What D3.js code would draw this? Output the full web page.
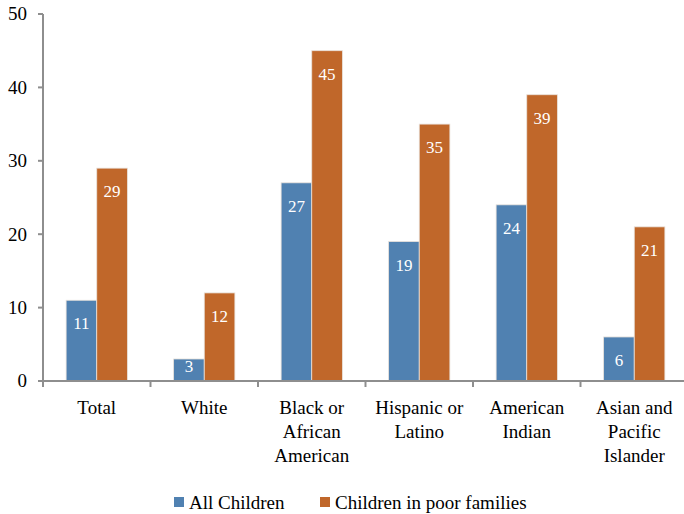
<!DOCTYPE html>
<html><head><meta charset="utf-8">
<script src="https://cdn.jsdelivr.net/npm/d3@7"></script>
</head><body style="margin:0">
<script>
const categories = [["Total"],["White"],["Black or","African","American"],["Hispanic or","Latino"],["American","Indian"],["Asian and","Pacific","Islander"]];
const allChildren = [11, 3, 27, 19, 24, 6];
const poorFamilies = [29, 12, 45, 35, 39, 21];
const seriesNames = ["All Children", "Children in poor families"];
const yTicks = [0, 10, 20, 30, 40, 50];
const colors = ["#5081b1", "#c0672a"];

const W = 684, H = 514;
const svg = d3.select("body").append("svg").attr("width", W).attr("height", H)
  .style("display", "block").style("font-family", '"Times New Roman"');

const x = d3.scaleBand().domain(d3.range(categories.length)).range([43, 688]);
const inner = d3.scaleBand().domain([0, 1]).range([0, x.bandwidth() * 0.57]);
const y = d3.scaleLinear().domain([0, 50]).range([381, 14]);

const axisColor = "#8e8e8e";
function addText(sel) {
  return sel.append("text").style("font-family", '"Times New Roman"');
}

// Y axis (drawn with d3 scale ticks, text created manually)
const yg = svg.append("g");
yg.append("line").attr("x1", 43).attr("x2", 43).attr("y1", y(0)).attr("y2", y(50))
  .attr("stroke", axisColor).attr("stroke-width", 2);
yTicks.forEach(t => {
  yg.append("line").attr("x1", 38).attr("x2", 43).attr("y1", y(t)).attr("y2", y(t))
    .attr("stroke", axisColor).attr("stroke-width", 2);
  addText(yg).attr("x", 27).attr("y", y(t)).attr("dy", "0.34em").attr("text-anchor", "end")
    .style("font-size", "19px").attr("fill", "#000").text(t);
});

// bars
const data = [allChildren, poorFamilies];
const groupOffset = (x.bandwidth() - x.bandwidth() * 0.57) / 2;
data.forEach((vals, s) => {
  const g = svg.append("g");
  vals.forEach((d, i) => {
    const bx = x(i) + groupOffset + inner(s);
    g.append("rect").attr("x", bx).attr("y", y(d))
      .attr("width", inner.bandwidth()).attr("height", y(0) - y(d))
      .attr("fill", colors[s]).attr("stroke", "#e9e2dc").attr("stroke-width", 0.8);
    addText(g).attr("x", bx + inner.bandwidth() / 2)
      .attr("y", Math.min(y(d) + 29, y(0) - 9))
      .attr("text-anchor", "middle").style("font-size", "17px").attr("fill", "#fff").text(d);
  });
});

// X axis
const xAxis = svg.append("g").attr("transform", "translate(0,381)");
xAxis.append("line").attr("x1", 43).attr("x2", 688).attr("stroke", axisColor).attr("stroke-width", 2);
d3.range(categories.length + 1).forEach(i => {
  xAxis.append("line").attr("x1", 43 + i * x.step()).attr("x2", 43 + i * x.step())
    .attr("y1", 0).attr("y2", 6).attr("stroke", axisColor).attr("stroke-width", 2);
});
categories.forEach((lines, i) => {
  lines.forEach((ln, j) => {
    addText(xAxis).attr("text-anchor", "middle").style("font-size", "19px").attr("fill", "#000")
      .attr("x", x(i) + x.bandwidth() / 2).attr("y", 33 + j * 24).text(ln);
  });
});

// legend
const legendX = [174, 320];
seriesNames.forEach((n, s) => {
  svg.append("rect").attr("x", legendX[s]).attr("y", 497).attr("width", 10).attr("height", 10).attr("fill", colors[s]);
  addText(svg).attr("x", legendX[s] + 15).attr("y", 509)
    .style("font-size", "19px").attr("fill", "#000").text(n);
});
</script>
</body></html>
